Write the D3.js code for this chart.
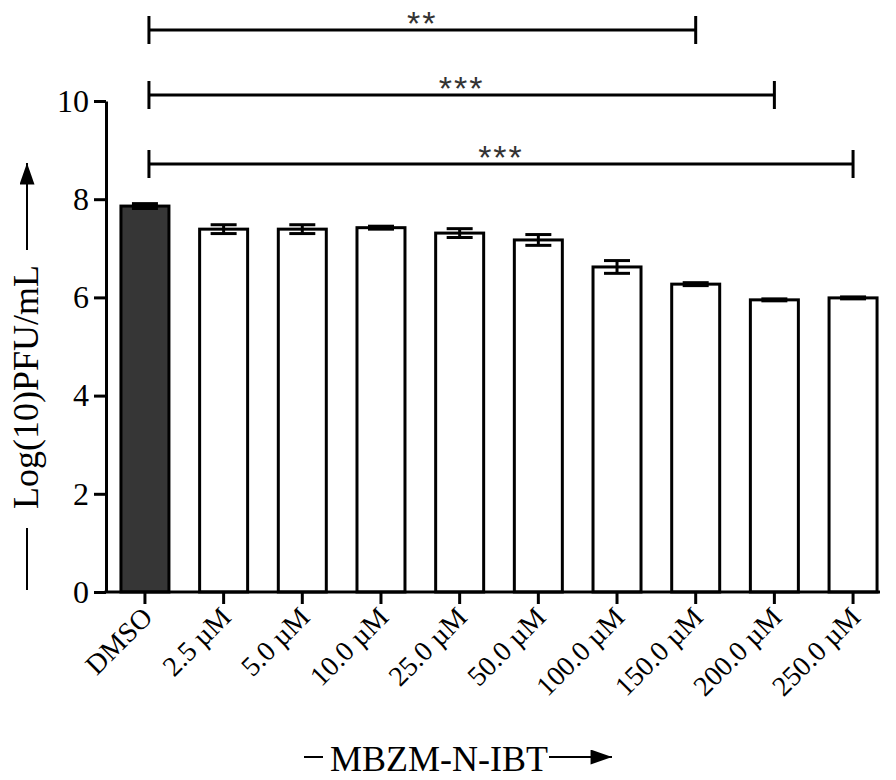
<!DOCTYPE html>
<html>
<head>
    <meta charset="utf-8">
    <title>MBZM-N-IBT</title>
    <script src="https://cdn.jsdelivr.net/npm/d3@7"></script>
    <style>
        body { margin: 0; background: #fff; }
    </style>
</head>
<body>
<script>
    // data
    var groups = [ "DMSO", "2.5 µM", "5.0 µM", "10.0 µM", "25.0 µM", "50.0 µM",
                   "100.0 µM", "150.0 µM", "200.0 µM", "250.0 µM" ];
    var means  = [ 7.86, 7.39, 7.39, 7.42, 7.31, 7.17, 6.62, 6.27, 5.95, 5.99 ];
    var sems   = [ 0.05, 0.09, 0.09, 0.03, 0.09, 0.11, 0.13, 0.03, 0.02, 0.02 ];
    var yTicks = [ 0, 2, 4, 6, 8, 10 ];
    // significance brackets: DMSO vs group
    var sigTo    = [ "150.0 µM", "200.0 µM", "250.0 µM" ];
    var sigStars = [ "**", "***", "***" ];
    var sigY     = [ 30, 95, 164 ];

    var width = 896;
    var height = 780;
    var svg = d3.select( "body" )
        .append( "svg" )
        .attr( "width", width )
        .attr( "height", height );

    var x = d3.scaleBand()
        .domain( groups )
        .range( [106, 892] )
        .paddingInner( 0.39 )
        .paddingOuter( 0.19 );
    var y = d3.scaleLinear()
        .domain( [0, 10] )
        .range( [592, 101] );

    var serif = "'Liberation Serif', 'Times New Roman', serif";

    // bars
    svg.append( "g" ).selectAll( "rect" )
        .data( groups )
        .enter()
        .append( "rect" )
        .attr( "x", function( d ) { return x( d ); } )
        .attr( "y", function( d, i ) { return y( means[i] ); } )
        .attr( "width", x.bandwidth() )
        .attr( "height", function( d, i ) { return y( 0 ) - y( means[i] ); } )
        .attr( "fill", function( d, i ) { return i == 0 ? "#363636" : "#fff"; } )
        .attr( "stroke", "#000" )
        .attr( "stroke-width", 3 );

    // error bars
    var err = svg.append( "g" )
        .attr( "stroke", "#000" )
        .attr( "stroke-width", 3 );
    groups.forEach( function( d, i ) {
        var cx = x( d ) + x.bandwidth() / 2;
        var hi = y( means[i] + sems[i] ), lo = y( means[i] - sems[i] );
        err.append( "line" ).attr( "x1", cx ).attr( "x2", cx ).attr( "y1", hi ).attr( "y2", lo );
        err.append( "line" ).attr( "x1", cx - 13 ).attr( "x2", cx + 13 ).attr( "y1", hi ).attr( "y2", hi );
        err.append( "line" ).attr( "x1", cx - 13 ).attr( "x2", cx + 13 ).attr( "y1", lo ).attr( "y2", lo );
    } );

    // y axis
    var yAxis = svg.append( "g" )
        .attr( "transform", "translate(106,0)" )
        .call( d3.axisLeft( y ).tickValues( yTicks ).tickSize( 12 ).tickSizeOuter( 0 ).tickPadding( 5 ) );
    yAxis.selectAll( "path, line" ).attr( "stroke-width", 3 );
    yAxis.selectAll( "text" )
        .attr( "font-family", serif )
        .attr( "font-size", 32 )
        .attr( "fill", "#000" );

    // x axis
    var xAxis = svg.append( "g" )
        .attr( "transform", "translate(0,592)" )
        .call( d3.axisBottom( x ).tickSize( 12 ).tickSizeOuter( 0 ) );
    xAxis.select( ".domain" ).remove();
    xAxis.selectAll( "line" ).attr( "stroke-width", 3 );
    xAxis.append( "line" )
        .attr( "x1", 104.5 ).attr( "x2", 880 )
        .attr( "stroke", "#000" ).attr( "stroke-width", 3 );
    xAxis.selectAll( "text" )
        .attr( "font-family", serif )
        .attr( "font-size", 28 )
        .attr( "fill", "#000" )
        .attr( "text-anchor", "end" )
        .attr( "dy", null )
        .attr( "y", 0 )
        .attr( "transform", "translate(9,27) rotate(-45)" );

    // significance brackets
    var sig = svg.append( "g" );
    sigTo.forEach( function( d, i ) {
        var x1 = x( groups[0] ) + x.bandwidth() / 2 + 4;
        var x2 = x( d ) + x.bandwidth() / 2;
        var g = sig.append( "g" ).attr( "stroke", "#000" ).attr( "stroke-width", 3 );
        g.append( "line" ).attr( "x1", x1 ).attr( "x2", x2 ).attr( "y1", sigY[i] ).attr( "y2", sigY[i] );
        g.append( "line" ).attr( "x1", x1 ).attr( "x2", x1 ).attr( "y1", sigY[i] - 14 ).attr( "y2", sigY[i] + 14 );
        g.append( "line" ).attr( "x1", x2 ).attr( "x2", x2 ).attr( "y1", sigY[i] - 14 ).attr( "y2", sigY[i] + 14 );
        sig.append( "text" )
            .attr( "x", ( x1 + x2 ) / 2 )
            .attr( "y", sigY[i] + 5 )
            .attr( "text-anchor", "middle" )
            .attr( "font-family", "'Liberation Sans', Arial, sans-serif" )
            .attr( "font-size", 34 )
            .attr( "letter-spacing", 2 )
            .attr( "fill", "#333" )
            .text( sigStars[i] );
    } );

    // axis titles with arrows
    svg.append( "defs" ).append( "marker" )
        .attr( "id", "arrow" )
        .attr( "viewBox", "0 0 20 14" )
        .attr( "refX", 20 ).attr( "refY", 7 )
        .attr( "markerWidth", 22 ).attr( "markerHeight", 15 )
        .attr( "markerUnits", "userSpaceOnUse" )
        .attr( "orient", "auto" )
        .append( "path" )
        .attr( "d", "M0,0 L20,7 L0,14 Z" )
        .attr( "fill", "#000" );

    svg.append( "text" )
        .attr( "transform", "translate(38,387) rotate(-90)" )
        .attr( "text-anchor", "middle" )
        .attr( "font-family", serif )
        .attr( "font-size", 36 )
        .text( "Log(10)PFU/mL" );
    svg.append( "line" )
        .attr( "x1", 27 ).attr( "x2", 27 ).attr( "y1", 528 ).attr( "y2", 590 )
        .attr( "stroke", "#000" ).attr( "stroke-width", 2 );
    svg.append( "line" )
        .attr( "x1", 27 ).attr( "x2", 27 ).attr( "y1", 250 ).attr( "y2", 163 )
        .attr( "stroke", "#000" ).attr( "stroke-width", 2 )
        .attr( "marker-end", "url(#arrow)" );

    svg.append( "text" )
        .attr( "x", 439 )
        .attr( "y", 771 )
        .attr( "text-anchor", "middle" )
        .attr( "font-family", serif )
        .attr( "font-size", 36 )
        .text( "MBZM-N-IBT" );
    svg.append( "line" )
        .attr( "x1", 304 ).attr( "x2", 323 ).attr( "y1", 757 ).attr( "y2", 757 )
        .attr( "stroke", "#000" ).attr( "stroke-width", 2 );
    svg.append( "line" )
        .attr( "x1", 549 ).attr( "x2", 612 ).attr( "y1", 757 ).attr( "y2", 757 )
        .attr( "stroke", "#000" ).attr( "stroke-width", 2 )
        .attr( "marker-end", "url(#arrow)" );
</script>
</body>
</html>
